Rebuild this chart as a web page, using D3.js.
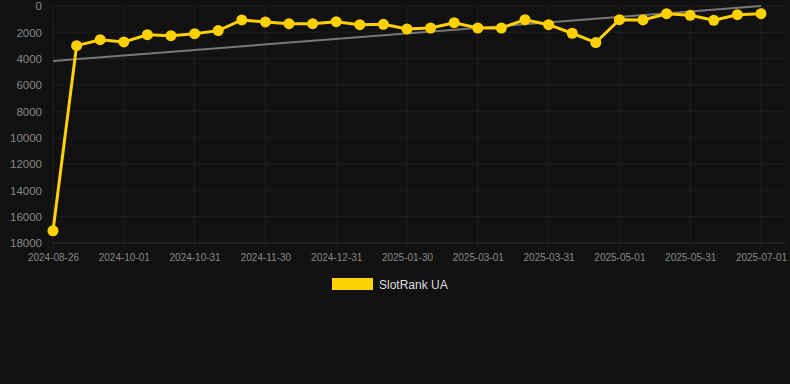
<!DOCTYPE html>
<html><head><meta charset="utf-8">
<script src="https://cdn.jsdelivr.net/npm/d3@7"></script>
<style>
html,body{margin:0;padding:0;background:#111111;}
svg{display:block;font-family:"Liberation Sans",Arial,sans-serif;}
</style></head>
<body><svg id="c" width="790" height="384"></svg>
<script>
const dates = ["2024-08-26","2024-09-07","2024-09-19","2024-10-01","2024-10-11","2024-10-21","2024-10-31","2024-11-10","2024-11-20","2024-11-30","2024-12-10","2024-12-20","2024-12-31","2025-01-10","2025-01-20","2025-01-30","2025-02-09","2025-02-19","2025-03-01","2025-03-11","2025-03-21","2025-03-31","2025-04-10","2025-04-20","2025-05-01","2025-05-11","2025-05-21","2025-05-31","2025-06-10","2025-06-20","2025-07-01"];
const rankValues = [17070,3010,2560,2730,2180,2250,2100,1870,1060,1210,1340,1340,1190,1420,1390,1745,1670,1270,1670,1670,1040,1420,2070,2780,1040,1060,585,705,1085,660,585];
const trendValues = [4170, 0];
const yTicks = [0,2000,4000,6000,8000,10000,12000,14000,16000,18000];
const xTickLabels = ["2024-08-26","2024-10-01","2024-10-31","2024-11-30","2024-12-31","2025-01-30","2025-03-01","2025-03-31","2025-05-01","2025-05-31","2025-07-01"];
const seriesName = "SlotRank UA";

const svg = d3.select("#c");
const mLeft = 53, mRight = 761, mTop = 6, mBottom = 243;
const x = d3.scalePoint().domain(dates).range([mLeft, mRight]);
const y = d3.scaleLinear().domain([0, 18000]).range([mTop, mBottom]);

// grid
const g = svg.append("g");
g.selectAll("line.h").data(yTicks).join("line")
  .attr("x1", mLeft).attr("x2", 786)
  .attr("y1", d => y(d)).attr("y2", d => y(d))
  .attr("stroke", d => d === 18000 ? "#2c2c2c" : "#1e1e1e").attr("stroke-width", 1);
g.selectAll("line.v").data(xTickLabels).join("line")
  .attr("x1", d => x(d)).attr("x2", d => x(d))
  .attr("y1", mTop).attr("y2", mBottom + 5)
  .attr("stroke", "#1e1e1e").attr("stroke-width", 1);

// y axis
const ya = svg.append("g").attr("transform", `translate(${mLeft - 11},0)`)
  .call(d3.axisLeft(y).tickValues(yTicks).tickSize(0).tickPadding(0).tickFormat(d3.format("d")));
ya.select(".domain").remove();
ya.selectAll("text").attr("fill", "#888").attr("font-size", "11.5px").attr("font-family", "Liberation Sans, Arial, sans-serif");

// x axis
const xa = svg.append("g").attr("transform", `translate(0,${mBottom})`)
  .call(d3.axisBottom(x).tickValues(xTickLabels).tickSize(0).tickPadding(11));
xa.select(".domain").remove();
xa.selectAll("text").attr("fill", "#888").attr("font-size", "10px").attr("font-family", "Liberation Sans, Arial, sans-serif");

// trend
svg.append("line")
  .attr("x1", x(dates[0])).attr("x2", x(dates[dates.length - 1]))
  .attr("y1", y(trendValues[0])).attr("y2", y(trendValues[1]))
  .attr("stroke", "#777").attr("stroke-width", 2);

// series line
const data = dates.map((d, i) => ({d, v: rankValues[i]}));
svg.append("path").datum(data)
  .attr("fill", "none").attr("stroke", "#FFD100").attr("stroke-width", 3)
  .attr("d", d3.line().x(p => x(p.d)).y(p => y(p.v)));
svg.selectAll("circle.pt").data(data).join("circle")
  .attr("cx", p => x(p.d)).attr("cy", p => y(p.v)).attr("r", 5.5)
  .attr("fill", "#FFD100");

// legend
svg.append("rect").attr("x", 332).attr("y", 278).attr("width", 41).attr("height", 12).attr("fill", "#FFD100");
svg.append("text").attr("x", 379).attr("y", 289).text(seriesName)
  .attr("fill", "#dddddd").attr("font-size", "12px");
</script></body></html>
